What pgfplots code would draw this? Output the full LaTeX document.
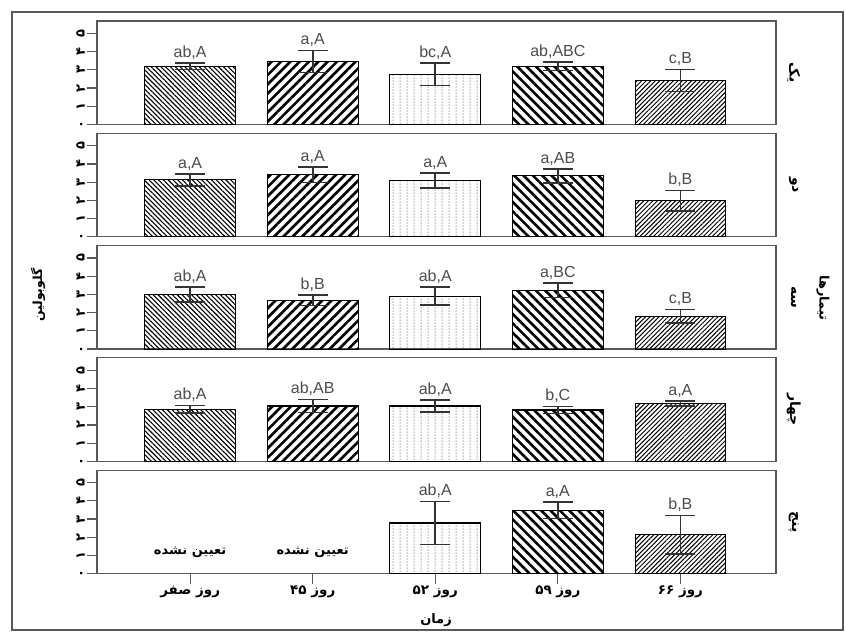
\documentclass[border=0pt]{standalone}
\usepackage{pgfplots}
\pgfplotsset{compat=1.18}
\usepackage{pgfplotstable}
\usepackage{fontspec}
\setmainfont{Liberation Sans}
\newfontfamily\fa[Script=Arabic]{DejaVu Sans}
\usetikzlibrary{patterns,patterns.meta}
\TeXXeTstate=1

\pgfdeclarepatternformonly{vdots}{\pgfqpoint{0pt}{0pt}}{\pgfqpoint{6.5pt}{3.2pt}}{\pgfqpoint{6.5pt}{3.2pt}}{%
  \pgfpathrectangle{\pgfqpoint{2.7pt}{0pt}}{\pgfqpoint{1.1pt}{1.9pt}}\pgfusepath{fill}}

\pgfplotstableread{
x y e lab
0 3.19 0.18 ab,A
1 3.46 0.60 a,A
2 2.75 0.62 bc,A
3 3.19 0.23 ab,ABC
4 2.42 0.60 c,B
}\tA
\pgfplotstableread{
x y e lab
0 3.13 0.33 a,A
1 3.41 0.42 a,A
2 3.09 0.40 a,A
3 3.34 0.38 a,AB
4 1.98 0.55 b,B
}\tB
\pgfplotstableread{
x y e lab
0 3.00 0.40 ab,A
1 2.68 0.29 b,B
2 2.91 0.50 ab,A
3 3.24 0.40 a,BC
4 1.81 0.37 c,B
}\tC
\pgfplotstableread{
x y e lab
0 2.86 0.20 ab,A
1 3.04 0.35 ab,AB
2 3.04 0.33 ab,A
3 2.82 0.20 b,C
4 3.17 0.14 a,A
}\tD
\pgfplotstableread{
x y e lab
2 2.78 1.18 ab,A
3 3.48 0.44 a,A
4 2.14 1.06 b,B
}\tE

\definecolor{frm}{gray}{0.35}
\definecolor{ebar}{gray}{0.2}
\definecolor{lbl}{gray}{0.3}

\pgfplotsset{
  cat0/.style={pattern={Lines[angle=-45,distance=3.4pt,line width=1.1pt]}},
  cat1/.style={pattern={Lines[angle=45,distance=6.6pt,line width=2.6pt]}},
  cat2/.style={pattern=vdots, pattern color=gray!65},
  cat3/.style={pattern={Lines[angle=-45,distance=6.6pt,line width=2.6pt]}},
  cat4/.style={pattern={Lines[angle=45,distance=3.2pt,line width=1pt]}},
  panel/.style={
    scale only axis, width=679pt, height=103.5pt,
    xmin=-0.76, xmax=4.78, ymin=0, ymax=5.68,
    ytick={0,1,2,3,4,5},
    yticklabels={\fa ۰,\fa ۱,\fa ۲,\fa ۳,\fa ۴,\fa ۵},
    yticklabel style={rotate=90, anchor=south, font=\bfseries\fontsize{13}{14}\selectfont, inner sep=2pt},
    tick align=outside, ytick pos=left,
    major tick length=10pt,
    major tick style={line width=1.2pt, draw=frm},
    xtick=\empty,
    axis line style={draw=frm, line width=1.2pt},
    clip=false,
  },
}
\newcommand{\barcat}[3]{%
  \addplot[ybar, bar width=0.74, bar shift=0pt, draw=black, line width=1.1pt, #3,
    restrict x to domain=#2:#2,
    error bars/.cd, y dir=both, y explicit, error mark=-,
    error bar style={line width=1.6pt, draw=ebar, solid},
    error mark options={rotate=90, line width=1.6pt, mark size=15pt, draw=ebar, solid}]
    table[x=x, y=y, y error=e] {#1};}
\newcommand{\labs}[1]{%
  \addplot[draw=none, mark=none, nodes near coords, point meta=explicit symbolic,
    nodes near coords style={anchor=south, font=\fontsize{16}{18}\selectfont, text=lbl, inner sep=2pt, yshift=1.5pt}]
    table[x=x, y expr=\thisrow{y}+\thisrow{e}, meta=lab] {#1};}
\newcommand{\strip}[1]{\node[rotate=-90, font=\fa\bfseries\fontsize{14}{16}\selectfont] at (rel axis cs:1.026,0.5) {\beginR #1\endR};}

\begin{document}
\begin{tikzpicture}[x=1pt,y=1pt]
\path[use as bounding box] (0,0) rectangle (845,632);
\draw[frm, line width=1.2pt] (12,2) rectangle (843,620);

\begin{axis}[panel, at={(97pt,507.5pt)}, anchor=south west]
\barcat{\tA}{0}{cat0}\barcat{\tA}{1}{cat1}\barcat{\tA}{2}{cat2}\barcat{\tA}{3}{cat3}\barcat{\tA}{4}{cat4}
\labs{\tA}
\strip{یک}
\end{axis}

\begin{axis}[panel, at={(97pt,395.2pt)}, anchor=south west]
\barcat{\tB}{0}{cat0}\barcat{\tB}{1}{cat1}\barcat{\tB}{2}{cat2}\barcat{\tB}{3}{cat3}\barcat{\tB}{4}{cat4}
\labs{\tB}
\strip{دو}
\end{axis}

\begin{axis}[panel, at={(97pt,282.9pt)}, anchor=south west]
\barcat{\tC}{0}{cat0}\barcat{\tC}{1}{cat1}\barcat{\tC}{2}{cat2}\barcat{\tC}{3}{cat3}\barcat{\tC}{4}{cat4}
\labs{\tC}
\strip{سه}
\end{axis}

\begin{axis}[panel, at={(97pt,170.6pt)}, anchor=south west]
\barcat{\tD}{0}{cat0}\barcat{\tD}{1}{cat1}\barcat{\tD}{2}{cat2}\barcat{\tD}{3}{cat3}\barcat{\tD}{4}{cat4}
\labs{\tD}
\strip{چهار}
\end{axis}

\begin{axis}[panel, at={(97pt,58.3pt)}, anchor=south west,
  xtick={0,1,2,3,4}, xtick pos=bottom,
  xticklabels={\beginR روز صفر\endR, \beginR روز \beginL۴۵\endL\endR, \beginR روز \beginL۵۲\endL\endR, \beginR روز \beginL۵۹\endL\endR, \beginR روز \beginL۶۶\endL\endR},
  xticklabel style={font=\fa\bfseries\fontsize{13.5}{15}\selectfont, inner sep=2pt}]
\barcat{\tE}{2}{cat2}\barcat{\tE}{3}{cat3}\barcat{\tE}{4}{cat4}
\labs{\tE}
\node[font=\fa\bfseries\fontsize{13}{15}\selectfont] at (axis cs:0,1.15) {\beginR تعیین نشده\endR};
\node[font=\fa\bfseries\fontsize{13}{15}\selectfont] at (axis cs:1,1.15) {\beginR تعیین نشده\endR};
\strip{پنج}
\end{axis}

\node[rotate=90, font=\fa\bfseries\fontsize{12.5}{14}\selectfont] at (38,337) {\beginR گلوبولین\endR};
\node[rotate=-90, font=\fa\bfseries\fontsize{13}{15}\selectfont] at (823,334) {\beginR تیمارها\endR};
\node[font=\fa\bfseries\fontsize{13}{15}\selectfont] at (436,12) {\beginR زمان\endR};
\end{tikzpicture}
\end{document}
